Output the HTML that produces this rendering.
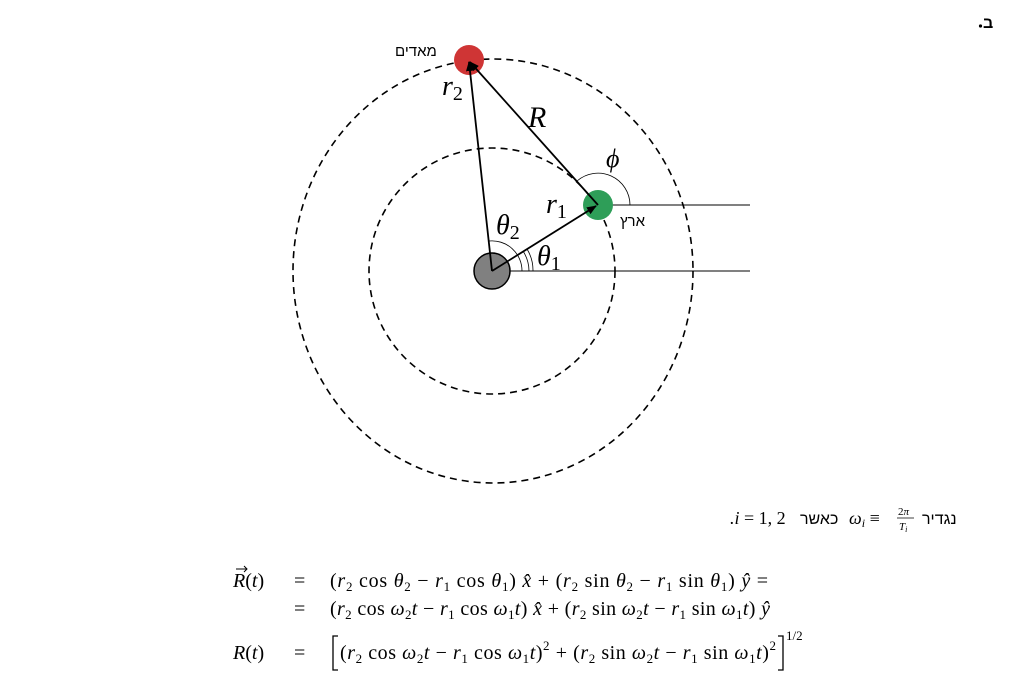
<!DOCTYPE html>
<html><head><meta charset="utf-8"><style>
html,body{margin:0;padding:0;background:#fff;}
svg{display:block;}
.m{font-family:"Liberation Serif",serif;font-style:italic;}
.r{font-family:"Liberation Serif",serif;}
.h{font-family:"Liberation Sans","DejaVu Sans",sans-serif;}
</style></head><body>
<svg width="1033" height="693" viewBox="0 0 1033 693" xmlns="http://www.w3.org/2000/svg">
<defs>
<marker id="a" markerWidth="10" markerHeight="8" refX="9" refY="4" orient="auto" markerUnits="userSpaceOnUse">
<path d="M0,0 L10,4 L0,8 z" fill="#000"/></marker>
</defs>
<circle cx="980.5" cy="26" r="1.6" fill="#000"/>
<text x="983" y="28" class="h" font-size="16" font-weight="bold">ב</text>
<!-- orbits -->
<ellipse cx="493" cy="271" rx="200" ry="212" fill="none" stroke="#000" stroke-width="1.6" stroke-dasharray="7,5"/>
<ellipse cx="492" cy="271" rx="123" ry="123" fill="none" stroke="#000" stroke-width="1.6" stroke-dasharray="7,5"/>
<!-- horizontal lines -->
<line x1="492" y1="271" x2="750" y2="271" stroke="#000" stroke-width="1.1"/>
<line x1="598" y1="205" x2="750" y2="205" stroke="#000" stroke-width="1.1"/>
<!-- bodies -->
<circle cx="492" cy="271" r="18" fill="#808080" stroke="#000" stroke-width="1.5"/>
<circle cx="598" cy="205" r="15" fill="#2e9e58"/>
<circle cx="469" cy="60" r="15" fill="#cf3535"/>
<!-- arcs -->
<path d="M522,271 A30,30 0 0 0 489,241" fill="none" stroke="#000" stroke-width="0.8"/>
<path d="M529,271 A37,37 0 0 0 523,251" fill="none" stroke="#000" stroke-width="0.8"/>
<path d="M533,271 A41,41 0 0 0 527,249" fill="none" stroke="#000" stroke-width="0.8"/>
<path d="M630,205 A32,32 0 0 0 577,181" fill="none" stroke="#000" stroke-width="0.8"/>
<!-- vectors -->
<line x1="492" y1="271" x2="596" y2="206" stroke="#000" stroke-width="1.8" marker-end="url(#a)"/>
<line x1="492" y1="271" x2="469" y2="62" stroke="#000" stroke-width="1.8" marker-end="url(#a)"/>
<line x1="598" y1="205" x2="470" y2="62" stroke="#000" stroke-width="1.8" marker-end="url(#a)"/>
<!-- labels -->
<text x="395" y="56" class="h" font-size="15">מאדים</text>
<text x="620" y="226" class="h" font-size="15">ארץ</text>
<text x="442" y="95" class="m" font-size="28">r<tspan font-size="20" font-style="normal" dy="5">2</tspan></text>
<text x="528" y="127" class="m" font-size="30">R</text>
<text x="546" y="213" class="m" font-size="28">r<tspan font-size="20" font-style="normal" dy="5">1</tspan></text>
<text x="606" y="167" class="m" font-size="26">ϕ</text>
<text x="496" y="234" class="m" font-size="28">θ<tspan font-size="20" font-style="normal" dy="5">2</tspan></text>
<text x="537" y="265" class="m" font-size="28">θ<tspan font-size="20" font-style="normal" dy="5">1</tspan></text>
<!-- define line -->
<text x="730" y="524" class="m" font-size="18">.i <tspan font-style="normal">= 1, 2</tspan></text>
<text x="800" y="524" class="h" font-size="16">כאשר</text>
<text x="849" y="524" class="m" font-size="18">ω<tspan font-size="12" dy="3">i</tspan><tspan font-style="normal" dy="-3"> ≡</tspan></text>
<text x="898" y="515" class="m" font-size="11"><tspan font-style="normal">2</tspan>π</text>
<line x1="897" y1="518" x2="914" y2="518" stroke="#000" stroke-width="0.8"/>
<text x="899" y="530" class="m" font-size="11">T<tspan font-size="8" dy="2">i</tspan></text>
<text x="922" y="524" class="h" font-size="16">נגדיר</text>
<!-- equations -->
<g font-size="20">
<text x="233" y="587" class="m">R<tspan font-style="normal">(</tspan>t<tspan font-style="normal">)</tspan></text>
<path d="M236,569 L247,569 M244,566 L247,569 L244,572" fill="none" stroke="#000" stroke-width="1"/>
<text x="294" y="587" class="r">=</text>
<text x="330" y="587" class="r" textLength="438" lengthAdjust="spacing">(<tspan class="m">r</tspan><tspan font-size="13" dy="4">2</tspan><tspan dy="-4"> cos </tspan><tspan class="m">θ</tspan><tspan font-size="13" dy="4">2</tspan><tspan dy="-4"> − </tspan><tspan class="m">r</tspan><tspan font-size="13" dy="4">1</tspan><tspan dy="-4"> cos </tspan><tspan class="m">θ</tspan><tspan font-size="13" dy="4">1</tspan><tspan dy="-4">) </tspan><tspan class="m">x̂</tspan> + (<tspan class="m">r</tspan><tspan font-size="13" dy="4">2</tspan><tspan dy="-4"> sin </tspan><tspan class="m">θ</tspan><tspan font-size="13" dy="4">2</tspan><tspan dy="-4"> − </tspan><tspan class="m">r</tspan><tspan font-size="13" dy="4">1</tspan><tspan dy="-4"> sin </tspan><tspan class="m">θ</tspan><tspan font-size="13" dy="4">1</tspan><tspan dy="-4">) </tspan><tspan class="m">ŷ</tspan> =</text>
<text x="294" y="615" class="r">=</text>
<text x="330" y="615" class="r" textLength="440" lengthAdjust="spacing">(<tspan class="m">r</tspan><tspan font-size="13" dy="4">2</tspan><tspan dy="-4"> cos </tspan><tspan class="m">ω</tspan><tspan font-size="13" dy="4">2</tspan><tspan class="m" dy="-4">t</tspan> − <tspan class="m">r</tspan><tspan font-size="13" dy="4">1</tspan><tspan dy="-4"> cos </tspan><tspan class="m">ω</tspan><tspan font-size="13" dy="4">1</tspan><tspan class="m" dy="-4">t</tspan>) <tspan class="m">x̂</tspan> + (<tspan class="m">r</tspan><tspan font-size="13" dy="4">2</tspan><tspan dy="-4"> sin </tspan><tspan class="m">ω</tspan><tspan font-size="13" dy="4">2</tspan><tspan class="m" dy="-4">t</tspan> − <tspan class="m">r</tspan><tspan font-size="13" dy="4">1</tspan><tspan dy="-4"> sin </tspan><tspan class="m">ω</tspan><tspan font-size="13" dy="4">1</tspan><tspan class="m" dy="-4">t</tspan>) <tspan class="m">ŷ</tspan></text>
<text x="233" y="659" class="m">R<tspan font-style="normal">(</tspan>t<tspan font-style="normal">)</tspan></text>
<text x="294" y="659" class="r">=</text>
<path d="M338,636 L333,636 L333,670 L338,670" fill="none" stroke="#000" stroke-width="1.3"/>
<text x="340" y="659" class="r" textLength="436" lengthAdjust="spacing">(<tspan class="m">r</tspan><tspan font-size="13" dy="4">2</tspan><tspan dy="-4"> cos </tspan><tspan class="m">ω</tspan><tspan font-size="13" dy="4">2</tspan><tspan class="m" dy="-4">t</tspan> − <tspan class="m">r</tspan><tspan font-size="13" dy="4">1</tspan><tspan dy="-4"> cos </tspan><tspan class="m">ω</tspan><tspan font-size="13" dy="4">1</tspan><tspan class="m" dy="-4">t</tspan>)<tspan font-size="13" dy="-9">2</tspan><tspan dy="9"> + (</tspan><tspan class="m">r</tspan><tspan font-size="13" dy="4">2</tspan><tspan dy="-4"> sin </tspan><tspan class="m">ω</tspan><tspan font-size="13" dy="4">2</tspan><tspan class="m" dy="-4">t</tspan> − <tspan class="m">r</tspan><tspan font-size="13" dy="4">1</tspan><tspan dy="-4"> sin </tspan><tspan class="m">ω</tspan><tspan font-size="13" dy="4">1</tspan><tspan class="m" dy="-4">t</tspan>)<tspan font-size="13" dy="-9">2</tspan></text>
<path d="M778,636 L783,636 L783,670 L778,670" fill="none" stroke="#000" stroke-width="1.3"/>
<text x="786" y="640" class="r" font-size="13">1/2</text>
</g>
</svg>
</body></html>
